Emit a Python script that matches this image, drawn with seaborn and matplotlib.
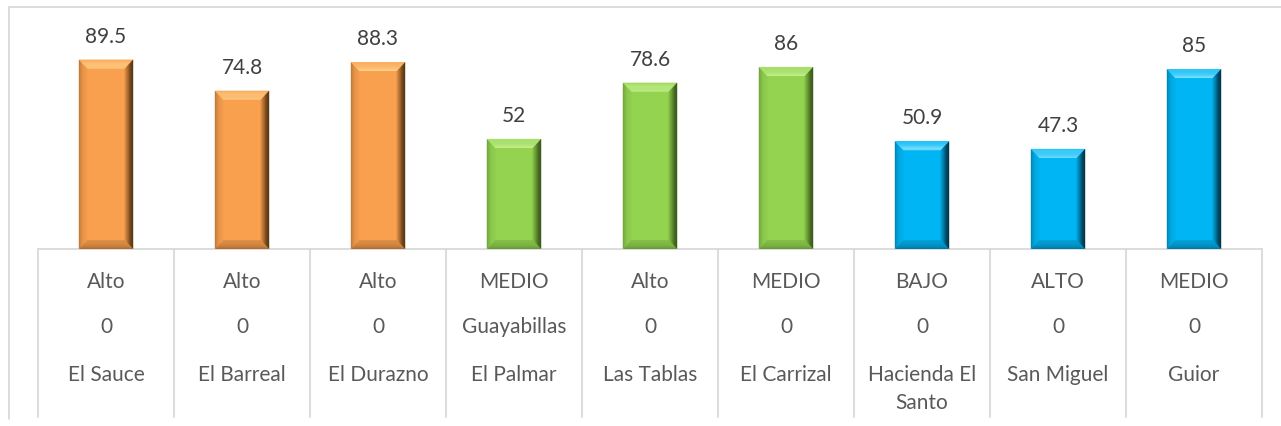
import matplotlib
matplotlib.use("Agg")
import matplotlib.pyplot as plt
import matplotlib.transforms as mtransforms
from matplotlib.patches import Polygon
from matplotlib.lines import Line2D
from matplotlib.colors import to_rgb
import seaborn as sns
import pandas as pd
import numpy as np

# ---- data ----
names = ["El Sauce", "El Barreal", "El Durazno", "El Palmar", "Las Tablas",
         "El Carrizal", "Hacienda El\nSanto", "San Miguel", "Guior"]
middle = ["0", "0", "0", "Guayabillas", "0", "0", "0", "0", "0"]
levels = ["Alto", "Alto", "Alto", "MEDIO", "Alto", "MEDIO", "BAJO", "ALTO", "MEDIO"]
values = [89.5, 74.8, 88.3, 52, 78.6, 86, 50.9, 47.3, 85]
groups = ["A", "A", "A", "B", "B", "B", "C", "C", "C"]

palette = {"A": "#F9A04F", "B": "#93D350", "C": "#00B5F3"}
light = {"A": "#FFD590", "B": "#CDF59A", "C": "#8AE6FF"}
dark = {"A": "#3F2408", "B": "#2A4410", "C": "#00202E"}

df = pd.DataFrame({"name": names, "value": values, "group": groups})

sns.set_theme(style="white")
plt.rcParams["font.family"] = ["Lato", "DejaVu Sans"]

W, H = 1281, 427
fig = plt.figure(figsize=(W / 100, H / 100), dpi=100)
px_per_unit = 2.117
ax_left, ax_right, ax_base, ax_top = 38, 1262, 250, 10
ax = fig.add_axes([ax_left / W, (H - ax_base) / H, (ax_right - ax_left) / W,
                   (ax_base - ax_top) / H])

sns.barplot(data=df, x="name", y="value", hue="group", palette=palette,
            width=0.4, dodge=False, legend=False, ax=ax, saturation=1,
            edgecolor="none", linewidth=0)

ax.set_xlim(-0.5, len(names) - 0.5)
ax.set_ylim(0, (ax_base - ax_top) / px_per_unit)
ax.axis("off")


def mix(c1, c2, t):
    a = np.array(to_rgb(c1)); b = np.array(to_rgb(c2))
    return tuple(a + (b - a) * t)


cat_w_px = (ax_right - ax_left) / len(names)
dx = 8.5 / cat_w_px
dy = 9 / px_per_unit
N = 8
bars = [p for p in ax.patches if p.get_height() > 0]
bars.sort(key=lambda p: p.get_x())
for idx, (p, g) in enumerate(zip(bars, groups)):
    x0 = p.get_x(); x1 = x0 + p.get_width(); h = p.get_height()
    base = palette[g]
    ts = np.linspace(0, 1, N + 1)  # 0 = inner edge, 1 = outer edge
    for k in range(N):
        ta, tb = ts[k], ts[k + 1]
        tm = (ta + tb) / 2
        ia, ib = 1 - ta, 1 - tb  # inset factors
        # bottom face
        ax.add_patch(Polygon([(x0 + dx * ia, dy * ia), (x1 - dx * ia, dy * ia),
                              (x1 - dx * ib, dy * ib), (x0 + dx * ib, dy * ib)],
                             closed=True, facecolor=mix(base, dark[g], 0.12 + 0.3 * tm),
                             edgecolor="none", zorder=3))
        # left face
        ax.add_patch(Polygon([(x0 + dx * ia, dy * ia), (x0 + dx * ia, h - dy * ia),
                              (x0 + dx * ib, h - dy * ib), (x0 + dx * ib, dy * ib)],
                             closed=True, facecolor=mix(base, dark[g], 0.05 + 0.35 * tm ** 3),
                             edgecolor="none", zorder=3))
        # top face
        ax.add_patch(Polygon([(x0 + dx * ia, h - dy * ia), (x1 - dx * ia, h - dy * ia),
                              (x1 - dx * ib, h - dy * ib), (x0 + dx * ib, h - dy * ib)],
                             closed=True, facecolor=mix(light[g], base, 0.1 + 0.6 * tm),
                             edgecolor="none", zorder=3))
        # right face
        ax.add_patch(Polygon([(x1 - dx * ia, h - dy * ia), (x1 - dx * ia, dy * ia),
                              (x1 - dx * ib, dy * ib), (x1 - dx * ib, h - dy * ib)],
                             closed=True, facecolor=mix(base, dark[g], 0.15 + 0.85 * tm),
                             edgecolor="none", zorder=3))
    ax.text((x0 + x1) / 2, h + 24 / px_per_unit, f"{values[idx]:g}",
            ha="center", va="center", fontsize=15, color="#404040", zorder=4)

# category table below axis
txt_color = "#595959"
grid_c = "#D9D9D9"
tr = mtransforms.blended_transform_factory(ax.transData, fig.transFigure)


def fy(py):
    return (H - py) / H


ax.add_line(Line2D([-0.5, len(names) - 0.5], [fy(ax_base), fy(ax_base)], transform=tr,
                   color=grid_c, lw=1.3, clip_on=False))
for i in range(len(names) + 1):
    ax.add_line(Line2D([i - 0.5, i - 0.5], [fy(ax_base), fy(418)], transform=tr,
                       color=grid_c, lw=1.3, clip_on=False))
for i in range(len(names)):
    ax.text(i, fy(282), levels[i], transform=tr, ha="center", va="center",
            fontsize=15, color=txt_color)
    ax.text(i, fy(327), middle[i], transform=tr, ha="center", va="center",
            fontsize=15, color=txt_color)
    ax.text(i, fy(365), names[i], transform=tr, ha="center", va="top",
            fontsize=15, color=txt_color, linespacing=1.5)

# outer chart border (left and top visible)
fig.add_artist(Line2D([9 / W, 9 / W], [fy(8), fy(420)], color=grid_c, lw=1.3))
fig.add_artist(Line2D([9 / W, 1.0], [fy(8), fy(8)], color=grid_c, lw=1.3))

fig.savefig("out.png", dpi=100, facecolor="white")
